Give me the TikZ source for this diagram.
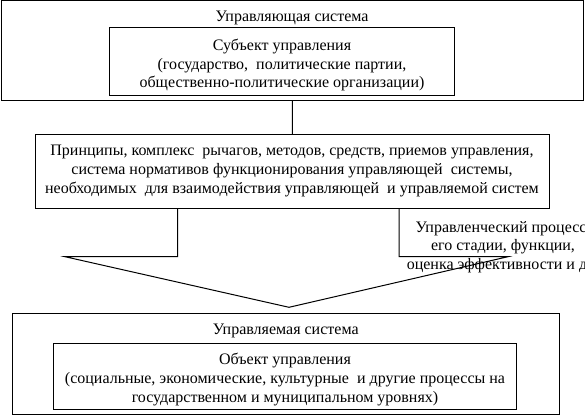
\documentclass[tikz,border=0pt]{standalone}
\usepackage{fontspec}
\setmainfont{Liberation Serif}
\newfontfamily\diagfont{Liberation Serif}
\usetikzlibrary{fit}
\begin{document}
\begin{tikzpicture}[x=0.75pt,y=-0.75pt,
  box/.style={draw=black, line width=0.75pt, inner sep=0pt},
  txt/.style={inner sep=0pt, align=center, font=\diagfont\fontsize{12pt}{14pt}\selectfont},
  conn/.style={draw=black, line width=0.75pt}]
\useasboundingbox (0,0) rectangle (585,416);
\clip (0,0) rectangle (585,416);
% boxes
\node[box, fit={(1,1) (583.5,100.7)}] (ctrlsys) {};
\node[box, fit={(109.3,27.3) (454.3,95.3)}] (subj) {};
\node[box, fit={(35.3,134.3) (549.3,209)}] (mid) {};
\node[box, fit={(12.3,313.3) (559,414.3)}] (ctrldsys) {};
\node[box, fit={(53.3,343.3) (516.7,409)}] (obj) {};
% texts
\node[txt] (t1) at (292,18) {Управляющая система};
\node[txt] (t2) at (282,65) {Субъект управления\\(государство,\ \ политические партии,\\общественно-политические организации)};
\node[txt] (t3) at (292,171) {Принципы, комплекс\ \ рычагов, методов, средств, приемов управления,\\система нормативов функционирования управляющей\ \ системы,\\необходимых\ \ для взаимодействия управляющей\ \ и управляемой систем};
\node[txt] (t5) at (285.7,330.5) {Управляемая система};
\node[txt] (t6) at (285,379.5) {Объект управления\\(социальные, экономические, культурные\ \ и другие процессы на\\государственном и муниципальном уровнях)};
% connector
\draw[conn] (ctrlsys.south) -- (mid.north);
% block arrow
\coordinate (a1) at (177.7,209);
\coordinate (a2) at (177.7,256.7);
\coordinate (a3) at (65,256.7);
\coordinate (tip) at (289,307.3);
\coordinate (a5) at (508,256.7);
\coordinate (a6) at (399,256.7);
\coordinate (a7) at (399,209);
\draw[conn, line join=miter] (a1) -- (a2) -- (a3) -- (tip) -- (a5) -- (a6) -- (a7);
\node[txt] (t4) at (503,247) {Управленческий процесс,\\его стадии, функции,\\оценка эффективности и др.};
\end{tikzpicture}
\end{document}
